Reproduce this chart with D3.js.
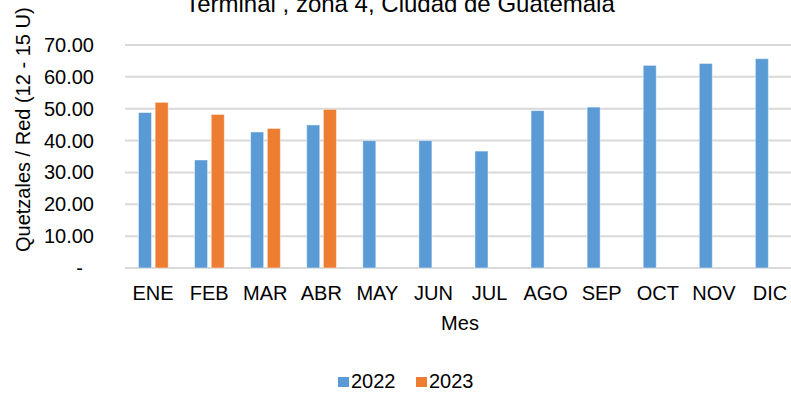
<!DOCTYPE html>
<html>
<head>
<meta charset="utf-8">
<script src="https://cdn.jsdelivr.net/npm/d3@7"></script>
<style>
  html, body { margin: 0; padding: 0; background: #fff; }
  svg { display: block; font-family: "Liberation Sans", Arial, sans-serif; }
</style>
</head>
<body>
<svg id="chart" width="791" height="395"></svg>
<script>
// Monthly price per net bag, 2022 vs 2023
const months = ["ENE","FEB","MAR","ABR","MAY","JUN","JUL","AGO","SEP","OCT","NOV","DIC"];
const seriesNames = ["2022", "2023"];
const values2022 = [48.8, 33.9, 42.7, 44.9, 40.0, 40.0, 36.7, 49.4, 50.5, 63.6, 64.2, 65.7];
const values2023 = [52.0, 48.2, 43.8, 49.8, null, null, null, null, null, null, null, null];
const yTicks = [0, 10, 20, 30, 40, 50, 60, 70];
const colors = ["#5B9BD5", "#ED7D31"];

const titleText = "Terminal , zona 4, Ciudad de Guatemala";
const yTitle = "Quetzales / Red (12 - 15 U)";
const xTitle = "Mes";

const svg = d3.select("#chart");
const W = 791;
const plotLeft = 125, plotRight = 798, plotTop = 45, plotBottom = 268;

const x = d3.scaleBand().domain(months).range([plotLeft, plotRight]).padding(0);
const x1 = d3.scaleBand().domain(seriesNames)
  .range([x.bandwidth() * 0.24, x.bandwidth() * 0.77]).paddingInner(0.22);
const y = d3.scaleLinear().domain([0, 70]).range([plotBottom, plotTop]);

// horizontal gridlines (the zero line doubles as the category axis)
svg.append("g").selectAll("line").data(yTicks).join("line")
  .attr("x1", plotLeft).attr("x2", W)
  .attr("y1", d => y(d)).attr("y2", d => y(d))
  .attr("stroke", "#D9D9D9").attr("stroke-width", 2);

// value axis labels
const fmt = d => d === 0 ? "-" : d3.format(".2f")(d);
svg.append("g").selectAll("text").data(yTicks).join("text")
  .attr("x", d => d === 0 ? 83 : 94)
  .attr("y", d => y(d) + 7)
  .attr("text-anchor", "end")
  .attr("font-size", 20)
  .attr("fill", "#000")
  .text(fmt);

// bars
const rows = months.map((m, i) => ({ month: m, vals: [values2022[i], values2023[i]] }));
const groups = svg.append("g").selectAll("g").data(rows).join("g")
  .attr("transform", d => `translate(${x(d.month)},0)`);
groups.selectAll("rect")
  .data(d => d.vals.map((v, k) => ({ key: seriesNames[k], v, k })).filter(e => e.v != null))
  .join("rect")
  .attr("x", d => x1(d.key))
  .attr("width", x1.bandwidth())
  .attr("y", d => y(d.v))
  .attr("height", d => y(0) - y(d.v))
  .attr("fill", d => colors[d.k])
  .attr("stroke", "#fff").attr("stroke-opacity", 0.45).attr("stroke-width", 1);

// month labels
svg.append("g").selectAll("text").data(months).join("text")
  .attr("x", d => x(d) + x.bandwidth() / 2)
  .attr("y", 300)
  .attr("text-anchor", "middle")
  .attr("font-size", 20)
  .attr("fill", "#000")
  .text(d => d);

// titles
svg.append("text")
  .attr("x", 400).attr("y", 12)
  .attr("text-anchor", "middle")
  .attr("font-size", 24)
  .attr("fill", "#000")
  .text(titleText);

svg.append("text")
  .attr("transform", "translate(30,252) rotate(-90)")
  .attr("text-anchor", "start")
  .attr("font-size", 20)
  .attr("fill", "#000")
  .text(yTitle);

svg.append("text")
  .attr("x", 460).attr("y", 330)
  .attr("text-anchor", "middle")
  .attr("font-size", 20)
  .attr("fill", "#000")
  .text(xTitle);

// legend
const legendX = [338, 416];
const legend = svg.append("g").selectAll("g").data(seriesNames).join("g")
  .attr("transform", (d, i) => `translate(${legendX[i]},377)`);
legend.append("rect")
  .attr("width", 11).attr("height", 10)
  .attr("fill", (d, i) => colors[i]);
legend.append("text")
  .attr("x", 13).attr("y", 11)
  .attr("font-size", 20)
  .attr("fill", "#000")
  .text(d => d);
</script>
</body>
</html>
